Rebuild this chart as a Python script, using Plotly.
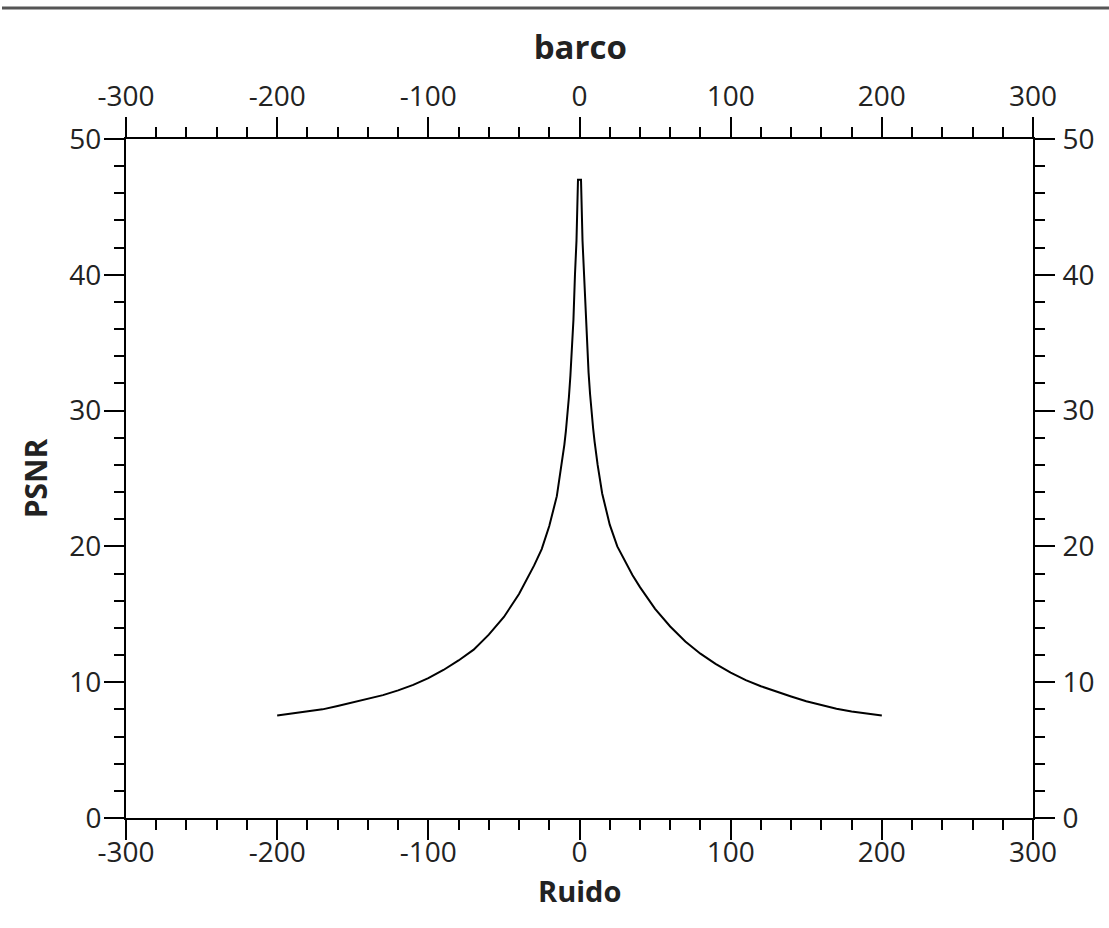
import plotly.graph_objects as go

# Ruido (noise shift) and PSNR values
ruido = [-200, -190, -180, -170, -160, -150, -140, -130, -120, -110, -100,
         -90, -80, -70, -60, -50, -40, -35, -30, -25, -20, -15, -12, -10,
         -9, -8, -7, -6, -5, -4, -3, -2, -1,
         1, 2, 3, 4, 5, 6, 7, 8, 9, 10, 12, 15, 20, 25, 30, 35,
         40, 50, 60, 70, 80, 90, 100, 110, 120, 130, 140, 150, 160, 170,
         180, 190, 200]
psnr = [7.55, 7.7, 7.85, 8.0, 8.25, 8.5, 8.75, 9.05, 9.4, 9.8, 10.3,
        10.9, 11.6, 12.4, 13.5, 14.8, 16.5, 17.5, 18.6, 19.8, 21.5, 23.7, 25.8, 27.5,
        28.5, 29.6, 31.0, 32.6, 34.5, 36.7, 40.0, 42.5, 47.0,
        47.0, 42.5, 40.0, 36.8, 34.7, 32.8, 31.2, 29.8, 28.7, 27.7, 26.0, 23.9, 21.6, 20.0, 18.9, 17.9,
        17.0, 15.4, 14.1, 13.0, 12.1, 11.35, 10.7, 10.15, 9.7, 9.3, 8.95, 8.6, 8.3, 8.05,
        7.85, 7.7, 7.55]

x_ticks = [-300, -200, -100, 0, 100, 200, 300]
y_ticks = [0, 10, 20, 30, 40, 50]

FONT = "Open Sans"
TXT = "#222222"

fig = go.Figure()
fig.add_trace(go.Scatter(x=ruido, y=psnr, mode="lines",
                         line=dict(color="black", width=2),
                         showlegend=False, hoverinfo="skip"))
# invisible companion trace so the mirrored (top/right) axes are drawn
fig.add_trace(go.Scatter(x=ruido, y=psnr, mode="lines", xaxis="x2", yaxis="y2",
                         line=dict(color="rgba(0,0,0,0)", width=0),
                         showlegend=False, hoverinfo="skip"))

axis_common = dict(
    showgrid=False, zeroline=False, showline=True, linecolor="black", linewidth=2,
    ticks="outside", ticklen=20, tickwidth=2, tickcolor="black",
    tickfont=dict(family=FONT, size=28, color=TXT),
)

fig.update_layout(
    width=1109, height=928,
    margin=dict(l=126, r=76, t=139, b=110),
    paper_bgcolor="white", plot_bgcolor="white",
    title=dict(text="<b>barco</b>", x=0.5232, xanchor="center",
               y=1 - 47 / 928, yanchor="middle", yref="container",
               font=dict(family=FONT, size=33, color=TXT)),
    xaxis=dict(range=[-300, 300], tickvals=x_ticks, ticktext=[str(v) for v in x_ticks],
               ticklabelstandoff=-12,
               minor=dict(dtick=20, ticks="outside", ticklen=10, tickwidth=2, tickcolor="black"),
               **axis_common),
    yaxis=dict(range=[0, 50], tickvals=y_ticks, ticktext=[str(v) for v in y_ticks],
               ticklabelstandoff=-3,
               minor=dict(dtick=2, ticks="outside", ticklen=10, tickwidth=2, tickcolor="black"),
               title=dict(text="<b>PSNR</b>", standoff=13,
                          font=dict(family=FONT, size=30, color=TXT)),
               **axis_common),
    xaxis2=dict(range=[-300, 300], overlaying="x", side="top", anchor="y2",
                tickvals=x_ticks, ticktext=[str(v) for v in x_ticks],
                minor=dict(dtick=20, ticks="outside", ticklen=10, tickwidth=2, tickcolor="black"),
                **axis_common),
    yaxis2=dict(range=[0, 50], overlaying="y", side="right", anchor="x2",
                tickvals=y_ticks, ticktext=[str(v) for v in y_ticks],
                ticklabelstandoff=2,
                minor=dict(dtick=2, ticks="outside", ticklen=10, tickwidth=2, tickcolor="black"),
                **axis_common),
    annotations=[dict(text="<b>Ruido</b>", xref="paper", yref="paper",
                      x=0.5, y=(818 - 890) / 679, xanchor="center", yanchor="middle",
                      showarrow=False, font=dict(family=FONT, size=29, color=TXT))],
    shapes=[dict(type="line", xref="paper", yref="paper",
                 x0=-124 / 907, x1=1 + 76 / 907,
                 y0=(818 - 8) / 679, y1=(818 - 8) / 679,
                 line=dict(color="#555555", width=3))],
)

fig.write_html("out.html")
